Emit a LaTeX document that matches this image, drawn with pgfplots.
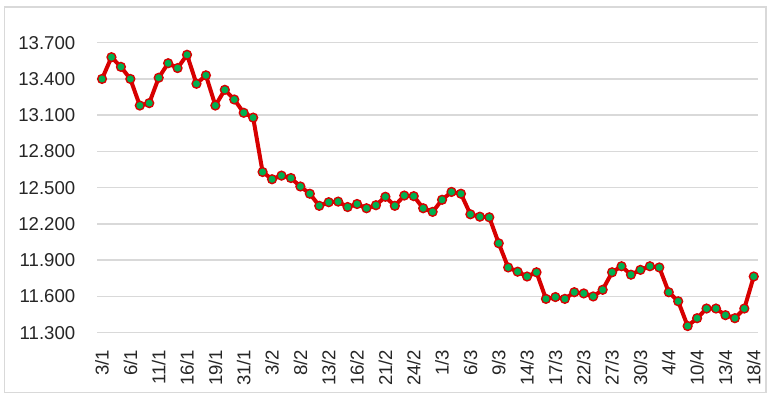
\documentclass[border=0pt]{standalone}
\usepackage{pgfplots}
\pgfplotsset{compat=1.18}
\usepackage{fontspec}
\setmainfont{Liberation Sans}
\definecolor{lnred}{RGB}{215,0,0}
\definecolor{mkgreen}{RGB}{0,176,80}
\definecolor{gridgray}{RGB}{217,217,217}
\definecolor{txt}{RGB}{38,38,38}
\begin{document}
\begin{tikzpicture}[x=1bp,y=1bp]
\fill[white] (0,0) rectangle (385.5,199);
\draw[gridgray, line width=0.8bp] (2.35,2.85) rectangle (382.85,195.35);
\begin{axis}[
  at={(48.65bp,32.65bp)}, anchor=south west,
  scale only axis, width=330.6bp, height=145bp,
  xmin=-0.5, xmax=69.5, ymin=11300, ymax=13700,
  ytick={11300,11600,11900,12200,12500,12800,13100,13400,13700},
  scaled y ticks=false,
  xtick={0,3,...,69},
  xticklabels={3/1,6/1,11/1,16/1,19/1,31/1,3/2,8/2,13/2,16/2,21/2,24/2,1/3,6/3,9/3,14/3,17/3,22/3,27/3,30/3,4/4,10/4,13/4,18/4},
  axis line style={draw=none},
  major tick length=0pt,
  ymajorgrids, major grid style={gridgray, line width=0.75bp},
  /pgf/number format/.cd, fixed, 1000 sep={.}, assume math mode=true,
  /pgfplots/.cd,
  tick label style={font=\fontsize{9.3bp}{11bp}\selectfont, text=txt},
  yticklabel style={anchor=east, xshift=-7.5bp},
  xticklabel style={rotate=90, anchor=east, xshift=-5bp},
  clip=false,
]
\addplot[lnred, line width=2bp, mark=*, mark size=2.2bp,
  mark options={fill=mkgreen, draw=lnred, line width=0.7bp}]
coordinates {
(0,13400)(1,13580)(2,13500)(3,13400)(4,13180)(5,13200)(6,13410)(7,13530)(8,13490)(9,13600)
(10,13360)(11,13430)(12,13180)(13,13310)(14,13230)(15,13120)(16,13080)(17,12630)(18,12570)(19,12600)
(20,12580)(21,12510)(22,12450)(23,12350)(24,12380)(25,12385)(26,12340)(27,12365)(28,12330)(29,12355)
(30,12425)(31,12350)(32,12435)(33,12430)(34,12330)(35,12300)(36,12400)(37,12465)(38,12450)(39,12280)
(40,12260)(41,12255)(42,12040)(43,11840)(44,11805)(45,11765)(46,11800)(47,11580)(48,11595)(49,11580)
(50,11635)(51,11625)(52,11600)(53,11655)(54,11800)(55,11850)(56,11780)(57,11820)(58,11850)(59,11840)
(60,11635)(61,11560)(62,11355)(63,11420)(64,11500)(65,11500)(66,11445)(67,11420)(68,11500)(69,11765)
};
\end{axis}
\end{tikzpicture}
\end{document}
